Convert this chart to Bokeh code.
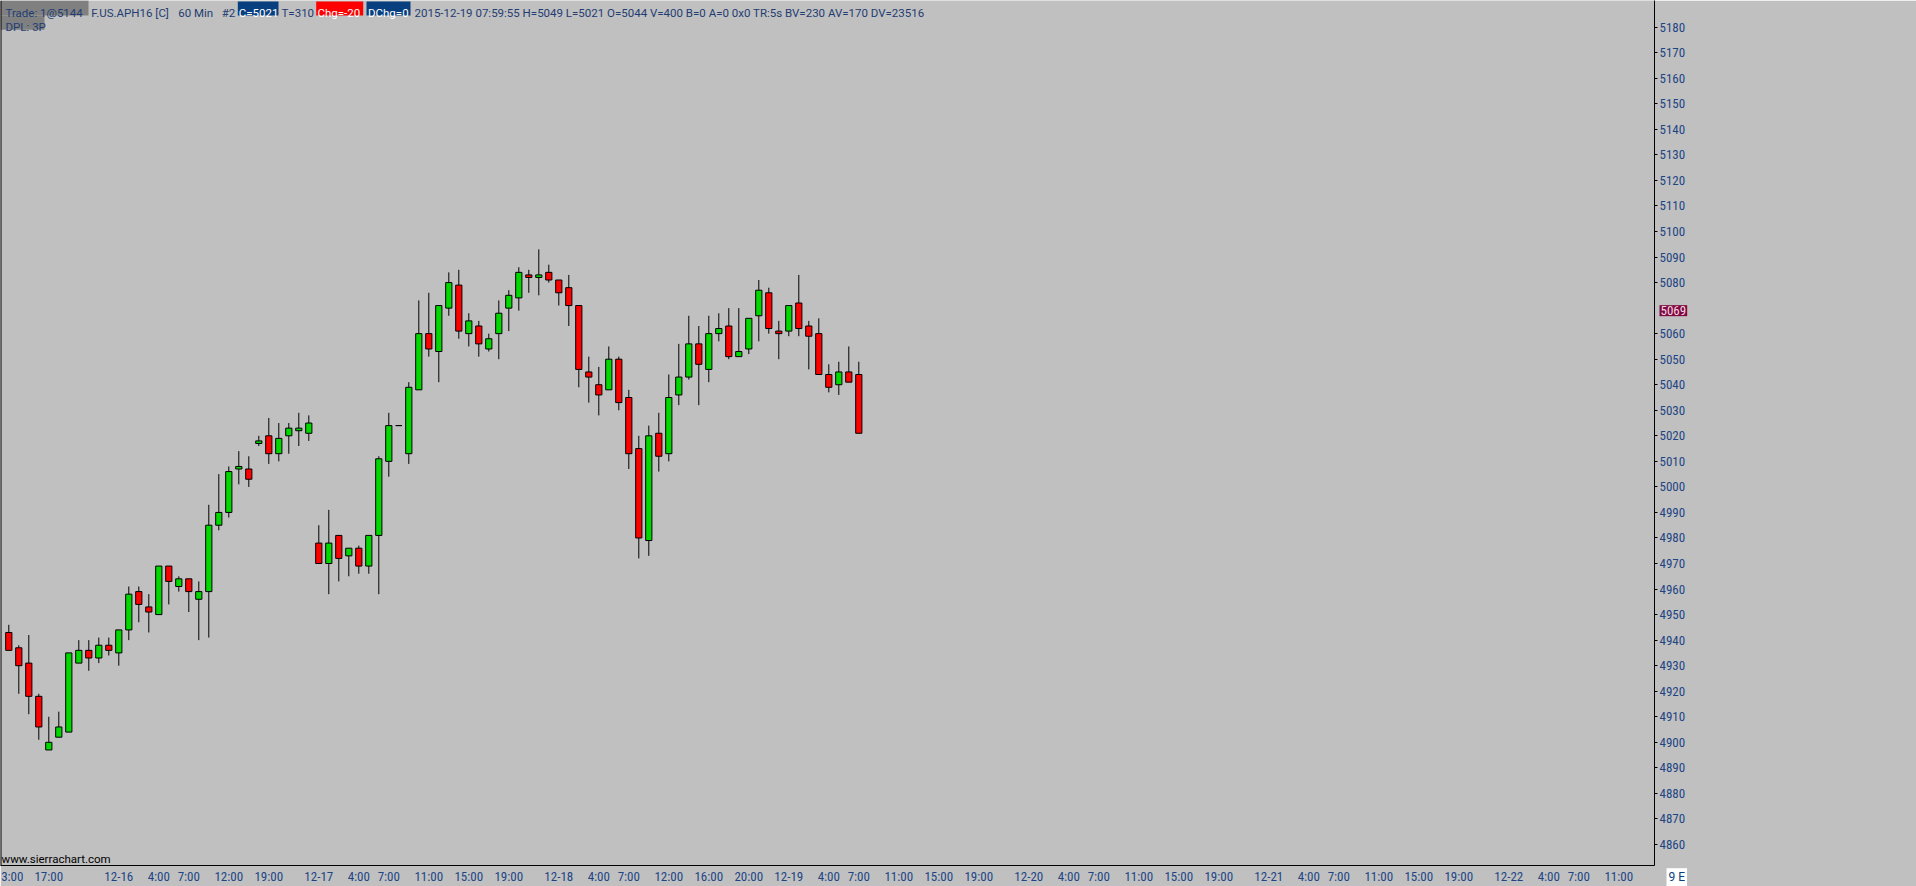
from bokeh.plotting import figure
from bokeh.models import LinearAxis, FixedTicker, Span, Label, ColumnDataSource
from bokeh.embed import file_html
from bokeh.resources import INLINE

# ---------------- data (60 min bars, F.US.APH16) ----------------
opens = [4943, 4937, 4931, 4918, 4897, 4902, 4904, 4931, 4936, 4933,
         4938, 4935, 4944, 4959, 4953, 4950, 4969, 4961, 4964, 4956,
         4959, 4985, 4990, 5007, 5007, 5017, 5020, 5013, 5020, 5022,
         5021, 4978, 4970, 4981, 4973, 4976, 4969, 4981, 5010, 5024,
         5013, 5038, 5060, 5053, 5070, 5079, 5060, 5063, 5054, 5060,
         5070, 5074, 5083, 5082, 5084, 5081, 5078, 5071, 5045, 5040,
         5038, 5050, 5035, 5015, 4979, 5021, 5013, 5036, 5043, 5056,
         5046, 5060, 5063, 5051, 5054, 5067, 5076, 5061, 5061, 5072,
         5063, 5060, 5044, 5040, 5045, 5044]
highs = [4946, 4938, 4942, 4919, 4910, 4912, 4935, 4940, 4940, 4941,
         4941, 4944, 4961, 4961, 4958, 4969, 4969, 4965, 4964, 4963,
         4993, 5005, 5008, 5014, 5012, 5020, 5027, 5025, 5025, 5029,
         5028, 4985, 4991, 4981, 4976, 4977, 4981, 5012, 5029, 5024,
         5041, 5073, 5076, 5071, 5084, 5085, 5068, 5065, 5060, 5073,
         5077, 5086, 5085, 5093, 5087, 5081, 5083, 5071, 5051, 5047,
         5055, 5051, 5038, 5020, 5024, 5029, 5044, 5056, 5067, 5063,
         5067, 5068, 5070, 5070, 5066, 5081, 5078, 5065, 5071, 5083,
         5065, 5066, 5048, 5049, 5055, 5049]
lows = [4936, 4919, 4911, 4901, 4897, 4902, 4904, 4931, 4928, 4931,
        4934, 4930, 4940, 4947, 4943, 4950, 4954, 4959, 4951, 4940,
        4941, 4983, 4988, 5001, 5000, 5016, 5009, 5010, 5013, 5016,
        5018, 4970, 4958, 4963, 4965, 4966, 4966, 4958, 5004, 5024,
        5009, 5038, 5051, 5041, 5067, 5058, 5055, 5051, 5053, 5050,
        5061, 5069, 5076, 5075, 5080, 5071, 5063, 5039, 5033, 5028,
        5038, 5030, 5007, 4972, 4973, 5006, 5010, 5032, 5042, 5032,
        5041, 5057, 5050, 5051, 5052, 5057, 5060, 5050, 5059, 5059,
        5046, 5044, 5037, 5036, 5041, 5021]
closes = [4936, 4930, 4918, 4906, 4900, 4906, 4935, 4936, 4933, 4938,
          4936, 4944, 4958, 4954, 4951, 4969, 4963, 4964, 4959, 4959,
          4985, 4990, 5006, 5008, 5003, 5018, 5013, 5019, 5023, 5023,
          5025, 4970, 4978, 4972, 4976, 4969, 4981, 5011, 5024, 5024,
          5039, 5060, 5054, 5071, 5080, 5061, 5065, 5056, 5058, 5068,
          5075, 5084, 5082, 5083, 5081, 5076, 5071, 5046, 5043, 5036,
          5050, 5033, 5013, 4980, 5020, 5012, 5035, 5043, 5056, 5048,
          5060, 5062, 5051, 5053, 5066, 5077, 5062, 5060, 5071, 5062,
          5059, 5044, 5039, 5045, 5041, 5021]

price_ticks = [v for v in range(4860, 5190, 10) if v != 5070]
marker_price = 5069

time_ticks = [0.35, 4, 11, 15, 18, 22, 26, 31, 35, 38, 42, 46, 50, 55, 59, 62, 66, 70,
              74, 78, 82, 85, 89, 93, 97, 102, 106, 109, 113, 117, 121, 126, 130,
              133, 137, 141, 145, 150, 154, 157, 161]
time_labels = ["3:00", "17:00", "12-16", "4:00", "7:00", "12:00", "19:00", "12-17",
               "4:00", "7:00", "11:00", "15:00", "19:00", "12-18", "4:00", "7:00",
               "12:00", "16:00", "20:00", "12-19", "4:00", "7:00", "11:00", "15:00",
               "19:00", "12-20", "4:00", "7:00", "11:00", "15:00", "19:00", "12-21",
               "4:00", "7:00", "11:00", "15:00", "19:00", "12-22", "4:00", "7:00",
               "11:00"]

# ---------------- layout ----------------
W, H = 1916, 886
FRAME_W, FRAME_H = 1654, 866
PX_PER_BAR = 10.0
PX_PER_PT = 2.557
X0 = -0.83
X1 = X0 + FRAME_W / PX_PER_BAR
Y1 = 5190.44
Y0 = Y1 - FRAME_H / PX_PER_PT


def px(x):
    return X0 + x / PX_PER_BAR


def py(y):
    return Y1 - y / PX_PER_PT


BG = "#C0C0C0"
GREEN = "#00D800"
RED = "#FF0000"
AXIS_TXT = "#1D4585"
HDR_TXT = "#1F3D73"
NAVY = "#08407F"
AX_FONT = "'Liberation Sans Narrow', 'Roboto Condensed', 'DejaVu Sans Condensed', Roboto"
HDR_FONT = "Roboto"
HDR_SIZE = "11.5px"

p = figure(width=W, height=H, x_range=(X0, X1), y_range=(Y0, Y1),
           output_backend="svg", toolbar_location=None,
           x_axis_location="below", y_axis_location=None,
           min_border_left=0, min_border_top=0, min_border_right=262,
           min_border_bottom=20, background_fill_color=BG, border_fill_color=BG,
           outline_line_color=None)
p.grid.visible = False

xa = p.xaxis[0]
xa.ticker = FixedTicker(ticks=time_ticks)
xa.major_label_overrides = {t: l for t, l in zip(time_ticks, time_labels)}
xa.major_tick_line_color = None
xa.minor_tick_line_color = None
xa.major_tick_out = 0
xa.major_tick_in = 0
xa.major_label_standoff = 3
xa.axis_line_color = "black"
xa.major_label_text_font = AX_FONT
xa.major_label_text_font_size = "13px"
xa.major_label_text_color = AXIS_TXT

ya = LinearAxis(ticker=FixedTicker(ticks=price_ticks))
ya.axis_line_color = "black"
ya.major_tick_line_color = "black"
ya.major_tick_out = 3
ya.major_tick_in = 0
ya.minor_tick_line_color = None
ya.major_label_standoff = 2
ya.major_label_text_font = AX_FONT
ya.major_label_text_font_size = "13px"
ya.major_label_text_color = AXIS_TXT
ya.major_label_text_align = "left"
p.add_layout(ya, "right")

p.add_layout(Span(location=X0, dimension="height", line_color="black", line_width=2))

# ---------------- candles ----------------
idx = list(range(len(opens)))
src = ColumnDataSource(dict(
    x=idx, o=opens, h=highs, l=lows, c=closes,
    top=[max(o, c) for o, c in zip(opens, closes)],
    bot=[min(o, c) for o, c in zip(opens, closes)],
    col=[GREEN if c >= o else RED for o, c in zip(opens, closes)],
))
p.segment(x0="x", y0="l", x1="x", y1="h", source=src, line_color="black", line_width=1)
p.vbar(x="x", width=0.62, top="top", bottom="bot", source=src,
       fill_color="col", line_color="black", line_width=1)

# ---------------- header ----------------
boxes = [  # (x0, x1, y0, y1, color) in pixels
    (0, 88, 0, 15, "#808080"),
    (0, 44, 15, 29.3, "#808080"),
    (237.3, 278, 1, 15, NAVY),
    (315.7, 362.7, 1, 15, RED),
    (366, 410, 1, 15, NAVY),
]
p.quad(left=[px(b[0]) for b in boxes], right=[px(b[1]) for b in boxes],
       top=[py(b[2]) for b in boxes], bottom=[py(b[3]) for b in boxes],
       fill_color=[b[4] for b in boxes], line_color=None)

header = [  # (text, x px, baseline y px, color)
    ("Trade: 1@5144", 5, 12.3, HDR_TXT),
    ("F.US.APH16 [C]", 90.7, 12.3, HDR_TXT),
    ("60 Min", 177.7, 12.3, HDR_TXT),
    ("#2", 221.2, 12.3, HDR_TXT),
    ("C=5021", 238.2, 12.3, "white"),
    ("T=310", 281, 12.3, HDR_TXT),
    ("Chg=-20", 317, 12.3, "white"),
    ("DChg=0", 367.5, 12.3, "white"),
    ("2015-12-19 07:59:55 H=5049 L=5021 O=5044 V=400 B=0 A=0 0x0 TR:5s "
     "BV=230 AV=170 DV=23516", 414, 12.3, HDR_TXT),
    ("DPL: 3P", 5, 26.7, HDR_TXT),
]
for t, x, y, col in header:
    p.add_layout(Label(x=px(x), y=py(y), text=t, text_font=HDR_FONT,
                       text_font_size=HDR_SIZE, text_color=col,
                       text_baseline="alphabetic", text_align="left"))

p.add_layout(Label(x=px(1), y=py(859), text="www.sierrachart.com",
                   text_font=HDR_FONT, text_font_size=HDR_SIZE,
                   text_color="black", text_baseline="middle", text_align="left"))

# last-price style marker on the price scale and the corner box (side panel, unclipped)
p.add_layout(Label(x=px(1659), y=marker_price, text=str(marker_price),
                   text_font=AX_FONT, text_font_size="13px",
                   text_color="#F3D6E4", text_baseline="middle", text_align="left",
                   background_fill_color="#7F0A3F", padding=1), "right")

p.add_layout(Label(x=px(1666), y=py(877.7), text="9 E",
                   text_font=HDR_FONT, text_font_size="12px",
                   text_color=NAVY, text_baseline="middle", text_align="left",
                   background_fill_color="white", padding=2), "right")

open("out.html", "w").write(file_html(p, INLINE))
